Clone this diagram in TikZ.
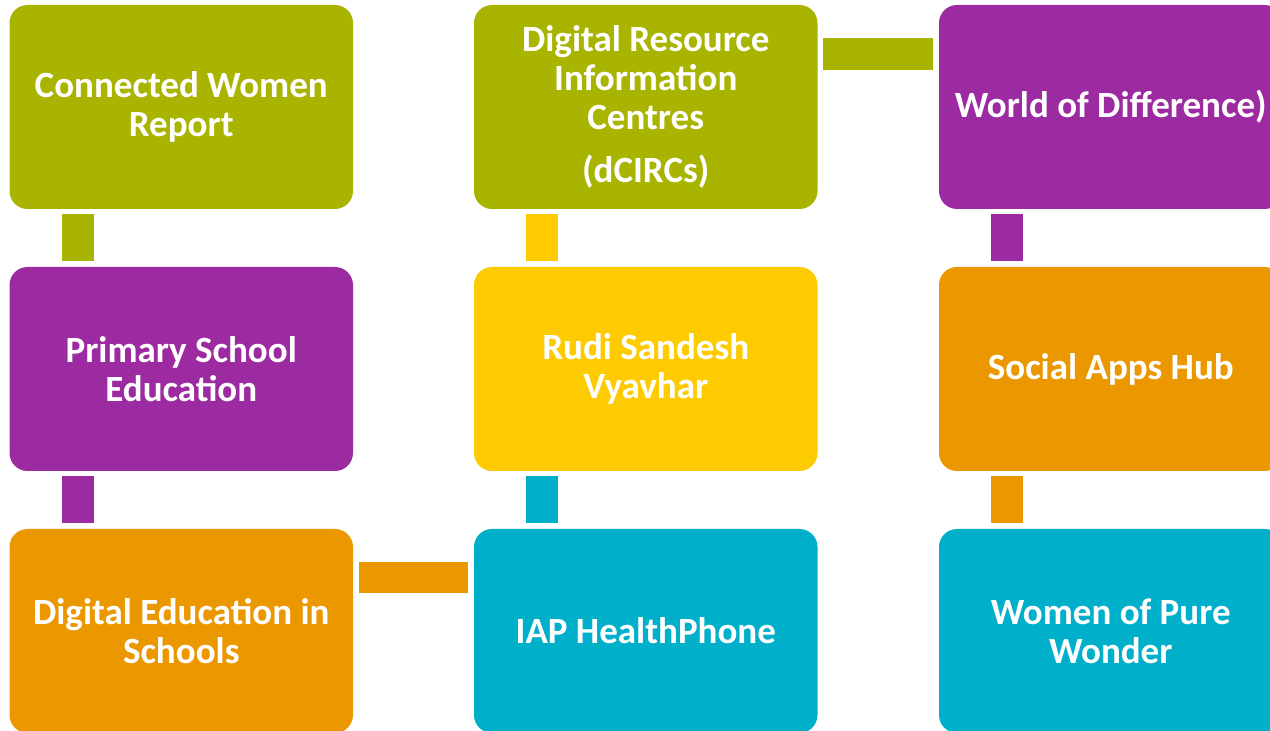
\documentclass[tikz,border=0pt]{standalone}
\usepackage{fontspec}
\setmainfont{Carlito}
\definecolor{vOlive}{HTML}{A8B400}
\definecolor{vPurple}{HTML}{9C2AA0}
\definecolor{vOrange}{HTML}{EB9700}
\definecolor{vYellow}{HTML}{FECB00}
\definecolor{vTeal}{HTML}{00B0CA}
\tikzset{
  box/.style={rounded corners=18pt, minimum width=343.5pt, minimum height=204pt,
    inner sep=0pt, outer sep=0pt, text=white, align=center,
    font=\fontsize{37}{39}\selectfont\bfseries},
}
\begin{document}
\begin{tikzpicture}[x=1pt,y=1pt]
\useasboundingbox (0,0) rectangle (1270,731);
\clip (0,0) rectangle (1270,731);
% boxes (centres: x 181.25 / 645.75 / 1110.75 ; y 624 / 362 / 100)
\node[box, fill=vOlive]  (a1) at (181.25,624) {Connected Women\\Report};
\node[box, fill=vPurple] (a2) at (181.25,362) {Primary School\\Education};
\node[box, fill=vOrange] (a3) at (181.25,100) {Digital Education in\\Schools};
\node[box, fill=vOlive]  (b1) at (645.75,624) {Digital Resource\\Information\\Centres\\[14pt](dCIRCs)};
\node[box, fill=vYellow] (b2) at (645.75,362) {Rudi Sandesh\\Vyavhar};
\node[box, fill=vTeal]   (b3) at (645.75,100) {IAP HealthPhone};
\node[box, fill=vPurple] (c1) at (1110.75,624) {World of Difference)};
\node[box, fill=vOrange] (c2) at (1110.75,362) {Social Apps Hub};
\node[box, fill=vTeal]   (c3) at (1110.75,100) {Women of Pure\\Wonder};
% vertical connectors
\fill[vOlive]  ([shift={(52.5,-5)}]a1.south west) rectangle ([shift={(84.5,6)}]a2.north west);
\fill[vPurple] ([shift={(52.5,-5)}]a2.south west) rectangle ([shift={(84.5,6)}]a3.north west);
\fill[vYellow] ([shift={(52,-5)}]b1.south west) rectangle ([shift={(84,6)}]b2.north west);
\fill[vTeal]   ([shift={(52,-5)}]b2.south west) rectangle ([shift={(84,6)}]b3.north west);
\fill[vPurple] ([shift={(52,-5)}]c1.south west) rectangle ([shift={(84,6)}]c2.north west);
\fill[vOrange] ([shift={(52,-5)}]c2.south west) rectangle ([shift={(84,6)}]c3.north west);
% horizontal connectors
\fill[vOlive]  ([shift={(5,-33)}]b1.north east) rectangle ([shift={(-6,-65)}]c1.north west);
\fill[vOrange] ([shift={(6,-33)}]a3.north east) rectangle ([shift={(-6,-64)}]b3.north west);
\end{tikzpicture}
\end{document}
